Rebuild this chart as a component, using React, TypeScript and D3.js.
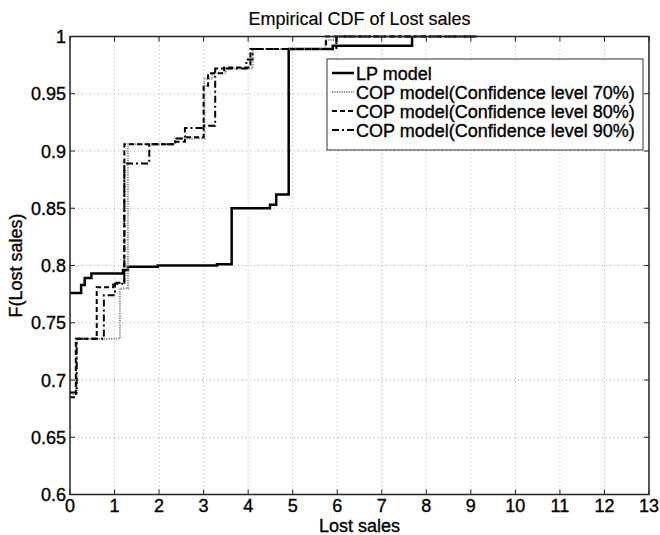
import React from "react";
import * as d3 from "d3";

// step data: [lost sales, F] — F holds from x onward
const lpSteps: [number, number][] = [
  [0, 0.776], [0.25, 0.783], [0.33, 0.789], [0.48, 0.793], [1.19, 0.796],
  [1.3, 0.799], [1.97, 0.8], [3.3, 0.801], [3.63, 0.85], [4.49, 0.853],
  [4.63, 0.862], [4.91, 0.989], [5.9, 0.992], [7.68, 1.0],
];
const cop70Steps: [number, number][] = [
  [0, 0.688], [0.15, 0.736], [1.12, 0.78], [1.3, 0.906], [2.36, 0.911],
  [3.02, 0.963], [3.2, 0.968], [3.5, 0.972], [4.1, 0.989], [5.73, 0.997],
  [5.98, 1.0], [9.15, 1.0],
];
const cop80Steps: [number, number][] = [
  [0, 0.685], [0.13, 0.736], [0.6, 0.781], [0.97, 0.785], [1.22, 0.906],
  [2.36, 0.908], [2.58, 0.912], [3.0, 0.957], [3.1, 0.968], [3.46, 0.973],
  [4.05, 0.989], [5.75, 1.0], [9.15, 1.0],
];
const cop90Steps: [number, number][] = [
  [0, 0.689], [0.15, 0.736], [0.76, 0.774], [1.01, 0.784], [1.22, 0.889],
  [1.78, 0.906], [2.36, 0.911], [2.58, 0.92], [3.0, 0.922], [3.26, 0.972],
  [3.96, 0.98], [4.1, 0.989], [5.98, 1.0], [9.15, 1.0],
];

const xTicks = d3.range(0, 14);
const yTicks = [0.6, 0.65, 0.7, 0.75, 0.8, 0.85, 0.9, 0.95, 1];
const yTickLabels = ["0.6", "0.65", "0.7", "0.75", "0.8", "0.85", "0.9", "0.95", "1"];

const series = [
  { name: "LP model", data: lpSteps, color: "#000", width: 2.5, dash: "none" },
  { name: "COP model(Confidence level 70%)", data: cop70Steps, color: "#8a8a8a", width: 2, dash: "1.2,1.2" },
  { name: "COP model(Confidence level 80%)", data: cop80Steps, color: "#000", width: 2, dash: "5,3" },
  { name: "COP model(Confidence level 90%)", data: cop90Steps, color: "#000", width: 2, dash: "7,3,2,3" },
];

const FONT = "'Liberation Sans', Arial, sans-serif";

export default function App() {
  const width = 660;
  const height = 535;
  const margin = { top: 36.5, right: 11, bottom: 40.5, left: 70 };
  const x = d3.scaleLinear().domain([0, 13]).range([margin.left, width - margin.right]);
  const y = d3.scaleLinear().domain([0.6, 1]).range([height - margin.bottom, margin.top]);

  const line = d3
    .line<[number, number]>()
    .x((d) => x(d[0]))
    .y((d) => y(d[1]))
    .curve(d3.curveStepAfter);

  const [x0, x1] = x.range();
  const [y0, y1] = y.range();

  const lx = 327;
  const ly = 59;
  const lw = 316;
  const lh = 91;

  return (
    <svg
      width={width}
      height={height}
      style={{ position: "absolute", left: 0, top: 0, background: "#fff" }}
      fontFamily={FONT}
    >
      <rect x={0} y={0} width={width} height={height} fill="#fff" />
      {/* grid */}
      <g stroke="#a8a8a8" strokeWidth={1} strokeDasharray="1,3">
        {xTicks.slice(1, -1).map((t) => (
          <line key={"gx" + t} x1={x(t)} x2={x(t)} y1={y0} y2={y1} />
        ))}
        {yTicks.slice(1, -1).map((t) => (
          <line key={"gy" + t} x1={x0} x2={x1} y1={y(t)} y2={y(t)} />
        ))}
      </g>

      {/* curves */}
      {series.map((s) => (
        <path
          key={s.name}
          d={line(s.data) || ""}
          fill="none"
          stroke={s.color}
          strokeWidth={s.width}
          strokeDasharray={s.dash}
        />
      ))}

      {/* axes box */}
      <rect x={x0} y={y1} width={x1 - x0} height={y0 - y1} fill="none" stroke="#222" strokeWidth={1.5} />
      <g stroke="#222" strokeWidth={1}>
        {xTicks.map((t) => (
          <g key={"tx" + t}>
            <line x1={x(t)} x2={x(t)} y1={y0} y2={y0 - 5} />
            <line x1={x(t)} x2={x(t)} y1={y1} y2={y1 + 5} />
          </g>
        ))}
        {yTicks.map((t) => (
          <g key={"ty" + t}>
            <line x1={x0} x2={x0 + 5} y1={y(t)} y2={y(t)} />
            <line x1={x1} x2={x1 - 5} y1={y(t)} y2={y(t)} />
          </g>
        ))}
      </g>

      {/* all text drawn slightly heavy, as in the exported figure */}
      <g fill="#000" stroke="#000" strokeWidth={0.35} fontSize={18}>
        {xTicks.map((t) => (
          <text key={"lx" + t} x={x(t)} y={512} textAnchor="middle">
            {t}
          </text>
        ))}
        {yTicks.map((t, i) => (
          <text key={"ly" + t} x={66} y={y(t) + 6.5} textAnchor="end">
            {yTickLabels[i]}
          </text>
        ))}

        <text x={(x0 + x1) / 2} y={25} textAnchor="middle" strokeWidth={0.15}>
          Empirical CDF of Lost sales
        </text>
        <text x={(x0 + x1) / 2} y={532} textAnchor="middle">
          Lost sales
        </text>
        <text transform={`translate(22,${(y0 + y1) / 2}) rotate(-90)`} textAnchor="middle">
          F(Lost sales)
        </text>
      </g>

      {/* legend */}
      <rect x={lx} y={ly} width={lw} height={lh} fill="#fff" stroke="#333" strokeWidth={1} />
      {series.map((s, i) => {
        const cy = ly + 14 + i * 19;
        return (
          <g key={"lg" + s.name}>
            <line
              x1={lx + 5}
              x2={lx + 27}
              y1={cy}
              y2={cy}
              stroke={s.color}
              strokeWidth={s.width}
              strokeDasharray={s.dash}
            />
            <text x={lx + 29} y={cy + 6.5} fontSize={18} stroke="#000" strokeWidth={0.35}>
              {s.name}
            </text>
          </g>
        );
      })}
    </svg>
  );
}
